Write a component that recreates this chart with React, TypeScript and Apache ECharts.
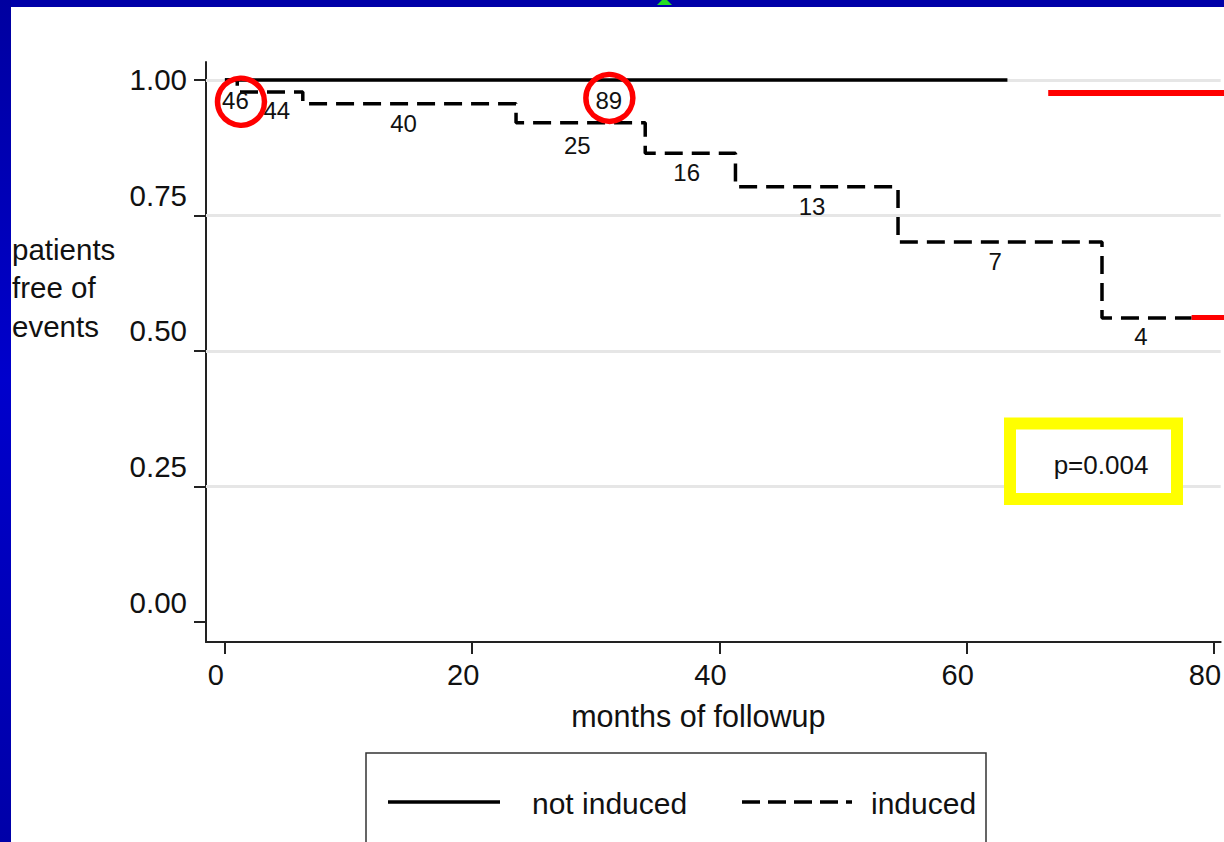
import React, { useEffect, useRef } from "react";
import * as echarts from "echarts";

// ---------- data ----------
const notInducedTimes = [0, 63.3];
const notInducedSurv = [1.0, 1.0];

const inducedTimes = [0, 1.0, 6.3, 23.55, 34.0, 41.3, 54.45, 70.95, 78.2];
const inducedSurv = [1.0, 0.978, 0.956, 0.921, 0.865, 0.803, 0.701, 0.561, 0.561];

const atRiskLabels = ["46", "44", "40", "25", "16", "13", "7", "4", "89"];
const atRiskTimes = [0.85, 4.2, 14.45, 28.5, 37.35, 47.5, 62.3, 74.1, 31.05];
const atRiskSurv = [0.963, 0.943, 0.919, 0.88, 0.83, 0.766, 0.666, 0.526, 0.963];

const circledTimes = [1.3, 31.1];
const circledSurv = [0.96, 0.967];

const redUpperTimes = [66.6, 81];
const redUpperSurv = [0.976, 0.976];
const redLowerTimes = [78.2, 81];
const redLowerSurv = [0.562, 0.562];

const yTicks = [0, 0.25, 0.5, 0.75, 1.0];
const xTicks = [0, 20, 40, 60, 80];
const gridValues = [0.25, 0.5, 0.75, 1.0];

const FONT = "'Liberation Sans', Arial, Helvetica, sans-serif";

const pairs = (xs: number[], ys: number[]) => xs.map((x, i) => [x, ys[i]]);

export default function App() {
  const ref = useRef<HTMLDivElement>(null);

  useEffect(() => {
    if (!ref.current) return;
    const chart = echarts.init(ref.current, undefined, { renderer: "svg" });

    const option: any = {
      animation: false,
      backgroundColor: "#ffffff",
      grid: { left: 206, top: 62, right: 0, bottom: 200, containLabel: false },
      xAxis: {
        type: "value",
        min: -1.53,
        max: 80.55,
        name: "months of followup",
        nameLocation: "middle",
        nameGap: 58,
        nameTextStyle: { fontFamily: FONT, fontSize: 30.5, color: "#111", padding: [0, 30, 0, 0] },
        axisLine: { show: true, onZero: false, lineStyle: { color: "#222", width: 2 } },
        axisTick: { show: true, length: 12, customValues: xTicks, lineStyle: { color: "#222", width: 2 } },
        axisLabel: {
          show: true,
          customValues: xTicks,
          margin: 18,
          fontFamily: FONT,
          fontSize: 29,
          color: "#111",
          padding: [0, 18, 0, 0],
        },
        splitLine: { show: false },
      },
      yAxis: {
        type: "value",
        min: -0.0369,
        max: 1.0332,
        axisLine: { show: true, onZero: false, lineStyle: { color: "#222", width: 2 } },
        axisTick: { show: true, length: 12, customValues: yTicks, lineStyle: { color: "#222", width: 2 } },
        axisLabel: {
          show: true,
          customValues: yTicks,
          margin: 19,
          fontFamily: FONT,
          fontSize: 29.5,
          color: "#111",
          formatter: (v: number) => (v >= 0.999 ? `{a|${v.toFixed(2)}}` : `{b|${v.toFixed(2)}}`),
          rich: {
            a: { fontFamily: FONT, fontSize: 29.5, color: "#111" },
            b: { fontFamily: FONT, fontSize: 29.5, color: "#111", padding: [0, 0, 40, 0] },
          },
        },
        splitLine: { show: false },
      },
      series: [
        {
          name: "grid",
          type: "line",
          data: [],
          z: 1,
          silent: true,
          markLine: {
            silent: true,
            z: 1,
            symbol: ["none", "none"],
            label: { show: false },
            lineStyle: { color: "#e6e6e6", width: 3, type: "solid" },
            data: gridValues.map((v) => ({ yAxis: v })),
          },
        },
        {
          name: "not induced",
          type: "line",
          data: pairs(notInducedTimes, notInducedSurv),
          step: "end",
          showSymbol: false,
          symbol: "none",
          z: 3,
          lineStyle: { color: "#000", width: 3.5, type: "solid" },
        },
        {
          name: "induced",
          type: "line",
          data: pairs(inducedTimes, inducedSurv),
          step: "end",
          showSymbol: false,
          symbol: "none",
          z: 3,
          lineStyle: { color: "#000", width: 3.5, type: [18, 9] },
        },
        {
          name: "redUpper",
          type: "line",
          data: pairs(redUpperTimes, redUpperSurv),
          symbol: "none",
          z: 4,
          lineStyle: { color: "#ff0000", width: 6 },
        },
        {
          name: "redLower",
          type: "line",
          data: pairs(redLowerTimes, redLowerSurv),
          symbol: "none",
          z: 4,
          lineStyle: { color: "#ff0000", width: 5 },
        },
        {
          name: "atRisk",
          type: "scatter",
          symbolSize: 0,
          z: 5,
          itemStyle: { opacity: 1 },
          data: atRiskTimes.map((t, i) => [t, atRiskSurv[i], atRiskLabels[i]]),
          label: {
            show: true,
            position: "inside",
            formatter: (p: any) => p.value[2],
            fontFamily: FONT,
            fontSize: 24,
            color: "#111",
            opacity: 1,
          },
        },
        {
          name: "circles",
          type: "scatter",
          symbol: "circle",
          symbolSize: 47,
          z: 6,
          data: pairs(circledTimes, circledSurv),
          itemStyle: { color: "rgba(0,0,0,0)", borderColor: "#ff0000", borderWidth: 5.5, opacity: 1 },
        },
      ],
      graphic: [
        {
          type: "rect",
          shape: { x: 0, y: 0, width: 1224, height: 7 },
          style: { fill: "#0000a8" },
          z: 100,
        },
        {
          type: "polygon",
          shape: { points: [[657, 5], [672, 5], [667, 0], [662, 0]] },
          style: { fill: "#22dd22" },
          z: 101,
        },
        {
          type: "rect",
          shape: { x: 0, y: 0, width: 11, height: 842 },
          style: {
            fill: new echarts.graphic.LinearGradient(0, 0, 0, 1, [
              { offset: 0, color: "#0000a0" },
              { offset: 0.45, color: "#0000cc" },
              { offset: 1, color: "#0000a8" },
            ]),
          },
          z: 100,
        },
        {
          type: "text",
          left: 12,
          top: 230,
          style: {
            text: "patients\nfree of\nevents",
            fontFamily: FONT,
            fontSize: 29.5,
            lineHeight: 38.5,
            fill: "#111",
            textAlign: "left",
          },
        },
        {
          type: "rect",
          shape: { x: 1010, y: 423.5, width: 167, height: 75.5 },
          style: { fill: "#ffffff", stroke: "#ffff00", lineWidth: 12 },
          z: 50,
        },
        {
          type: "text",
          x: 1101,
          y: 465,
          style: {
            text: "p=0.004",
            fontFamily: FONT,
            fontSize: 26,
            fill: "#111",
            textAlign: "center",
            textVerticalAlign: "middle",
          },
          z: 51,
        },
        {
          type: "rect",
          shape: { x: 366, y: 753, width: 620, height: 120 },
          style: { fill: "#ffffff", stroke: "#333", lineWidth: 1.5 },
          z: 50,
        },
        {
          type: "line",
          shape: { x1: 388, y1: 802, x2: 500, y2: 802 },
          style: { stroke: "#000", lineWidth: 3.5 },
          z: 51,
        },
        {
          type: "text",
          x: 532,
          y: 803,
          style: {
            text: "not induced",
            fontFamily: FONT,
            fontSize: 30,
            fill: "#111",
            textAlign: "left",
            textVerticalAlign: "middle",
          },
          z: 51,
        },
        {
          type: "line",
          shape: { x1: 742, y1: 802, x2: 852, y2: 802 },
          style: { stroke: "#000", lineWidth: 3.5, lineDash: [18, 8] },
          z: 51,
        },
        {
          type: "text",
          x: 871,
          y: 803,
          style: {
            text: "induced",
            fontFamily: FONT,
            fontSize: 30,
            fill: "#111",
            textAlign: "left",
            textVerticalAlign: "middle",
          },
          z: 51,
        },
      ],
    };

    chart.setOption(option);
    return () => chart.dispose();
  }, []);

  return (
    <div
      style={{ position: "fixed", left: 0, top: 0, width: 1224, height: 842, overflow: "hidden", background: "#fff" }}
    >
      <div ref={ref} style={{ width: 1224, height: 842 }} />
    </div>
  );
}
